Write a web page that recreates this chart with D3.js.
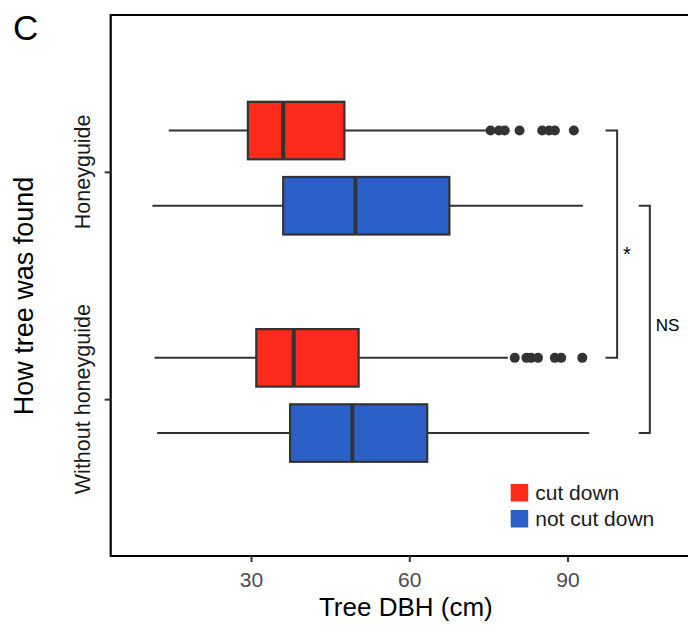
<!DOCTYPE html>
<html>
<head>
<meta charset="utf-8">
<script src="https://cdn.jsdelivr.net/npm/d3@7"></script>
<style>
  body { margin: 0; background: #fff; }
  text { font-family: "Liberation Sans", Arial, sans-serif; }
</style>
</head>
<body>
<div id="viz"></div>
<script>
const width = 688;
const height = 626;
const panel = {left: 110.7, top: 15, right: 701, bottom: 556};

// data (Tree DBH in cm)
const groups = ['Honeyguide', 'Without honeyguide'];
const fates = ['cut down', 'not cut down'];
const fateColors = ['#fe2a1c', '#2b60c8'];

// [lower whisker, Q1, median, Q3, upper whisker]
const honeyCut = [14.4, 29.4, 36.1, 47.7, 74.6];
const honeyNotCut = [11.3, 36.1, 49.8, 67.6, 92.9];
const withoutCut = [11.7, 31.0, 38.1, 50.4, 78.7];
const withoutNotCut = [12.2, 37.4, 49.2, 63.4, 94.1];

const honeyCutOutliers = [75.4, 77.0, 78.1, 80.9, 85.2, 86.5, 87.6, 91.2];
const withoutCutOutliers = [80.0, 82.2, 83.1, 84.4, 87.6, 88.8, 92.8];

const xTicks = [30, 60, 90];

// significance brackets: fate compared across groups, x0/x1 in cm, label
const brackets = [
    {from: 0, to: 0, x0: 97.2, x1: 99.4, label: '*'},
    {from: 1, to: 1, x0: 103.5, x1: 105.6, label: 'NS'}
];

const boxes = [
    {group: 0, fate: 0, stats: honeyCut, outliers: honeyCutOutliers},
    {group: 0, fate: 1, stats: honeyNotCut, outliers: []},
    {group: 1, fate: 0, stats: withoutCut, outliers: withoutCutOutliers},
    {group: 1, fate: 1, stats: withoutNotCut, outliers: []}
];

const x = d3.scaleLinear()
    .domain([3.4, 115.3])
    .range([panel.left, panel.right]);

const y = d3.scalePoint()
    .domain(groups)
    .range([panel.top, panel.bottom])
    .padding(0.69);

// dodge offsets for the two fates
const dodge = [-41.3, 33.9];
const boxH = 57.5;
const yc = (g, f) => y(groups[g]) + dodge[f];

const svg = d3.select('#viz')
    .append('svg')
    .attr('width', width)
    .attr('height', height);

// boxes
const bg = svg.append('g').attr('class', 'boxes');

boxes.forEach(b => {
    const cy = yc(b.group, b.fate);
    const s = b.stats;
    // whiskers
    bg.append('line')
        .attr('x1', x(s[0])).attr('x2', x(s[1]))
        .attr('y1', cy).attr('y2', cy)
        .attr('stroke', '#333').attr('stroke-width', 2);
    bg.append('line')
        .attr('x1', x(s[3])).attr('x2', x(s[4]))
        .attr('y1', cy).attr('y2', cy)
        .attr('stroke', '#333').attr('stroke-width', 2);
    // box
    bg.append('rect')
        .attr('x', x(s[1]))
        .attr('y', cy - boxH / 2)
        .attr('width', x(s[3]) - x(s[1]))
        .attr('height', boxH)
        .attr('fill', fateColors[b.fate])
        .attr('stroke', '#333')
        .attr('stroke-width', 2.2);
    // median
    bg.append('line')
        .attr('x1', x(s[2])).attr('x2', x(s[2]))
        .attr('y1', cy - boxH / 2).attr('y2', cy + boxH / 2)
        .attr('stroke', '#333').attr('stroke-width', 4);
    // outliers
    bg.selectAll(null)
        .data(b.outliers)
        .join('circle')
        .attr('cx', d => x(d))
        .attr('cy', cy)
        .attr('r', 5)
        .attr('fill', '#333');
});

// brackets
const br = svg.append('g').attr('class', 'brackets');
brackets.forEach(b => {
    const yTop = yc(0, b.from);
    const yBot = yc(1, b.to);
    br.append('path')
        .attr('d', `M${x(b.x0)},${yTop}H${x(b.x1)}V${yBot}H${x(b.x0)}`)
        .attr('fill', 'none')
        .attr('stroke', '#333')
        .attr('stroke-width', 2);
});
br.append('text')
    .attr('x', x(brackets[0].x1) + 6)
    .attr('y', (yc(0, 0) + yc(1, 0)) / 2 + 17)
    .style('font-size', '20px')
    .text(brackets[0].label);
br.append('text')
    .attr('x', x(brackets[1].x1) + 6)
    .attr('y', (yc(0, 1) + yc(1, 1)) / 2 + 12)
    .style('font-size', '17px')
    .text(brackets[1].label);

// panel border (left, top, bottom)
svg.append('path')
    .attr('d', `M${panel.right},${panel.top}H${panel.left}V${panel.bottom}H${panel.right}`)
    .attr('fill', 'none')
    .attr('stroke', '#000')
    .attr('stroke-width', 2.2);

// x axis
const xAxis = svg.append('g')
    .attr('transform', `translate(0, ${panel.bottom})`)
    .call(d3.axisBottom(x).tickValues(xTicks).tickSize(6).tickPadding(10));
xAxis.select('.domain').remove();
xAxis.selectAll('line').attr('stroke', '#333').attr('stroke-width', 2);
xAxis.selectAll('text')
    .style('font-size', '21px')
    .style('font-family', '"Liberation Sans", Arial, sans-serif')
    .attr('fill', '#4d4d4d');

svg.append('text')
    .attr('x', (panel.left + panel.right) / 2)
    .attr('y', 616)
    .attr('text-anchor', 'middle')
    .style('font-size', '26px')
    .text('Tree DBH (cm)');

// y axis
const yAxis = svg.append('g')
    .attr('transform', `translate(${panel.left}, 0)`)
    .call(d3.axisLeft(y).tickSize(6).tickFormat(''));
yAxis.select('.domain').remove();
yAxis.selectAll('line').attr('stroke', '#333').attr('stroke-width', 2);

svg.append('g')
    .selectAll('text')
    .data(groups)
    .join('text')
    .attr('transform', d => `translate(90, ${y(d)}) rotate(-90)`)
    .attr('text-anchor', 'middle')
    .style('font-size', '21.5px')
    .attr('fill', '#1a1a1a')
    .text(d => d);

svg.append('text')
    .attr('transform', `translate(33, 296) rotate(-90)`)
    .attr('text-anchor', 'middle')
    .style('font-size', '27px')
    .text('How tree was found');

// panel letter
svg.append('text')
    .attr('x', 13)
    .attr('y', 40)
    .style('font-size', '35px')
    .text('C');

// legend
const legend = svg.append('g').attr('transform', 'translate(510.7, 484)');
fates.forEach((f, i) => {
    legend.append('rect')
        .attr('x', 0)
        .attr('y', i * 26)
        .attr('width', 17.5)
        .attr('height', 17.5)
        .attr('fill', fateColors[i]);
    legend.append('text')
        .attr('x', 24.5)
        .attr('y', i * 26 + 15.5)
        .style('font-size', '21px')
        .attr('fill', '#1a1a1a')
        .text(f);
});
</script>
</body>
</html>
